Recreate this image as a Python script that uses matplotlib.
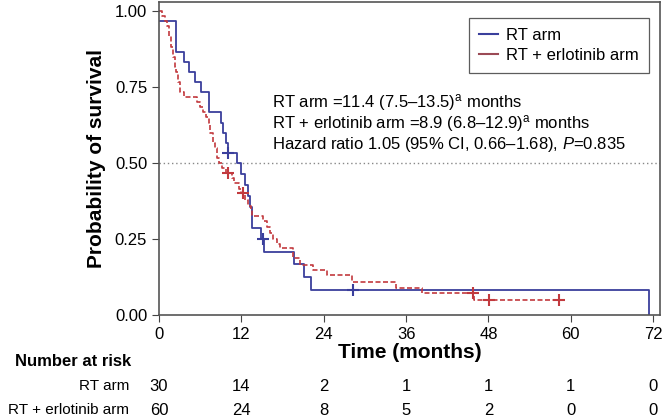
import matplotlib.pyplot as plt
from matplotlib.lines import Line2D
from matplotlib.transforms import blended_transform_factory

plt.rcParams['font.family'] = ['Liberation Sans', 'DejaVu Sans']
plt.rcParams['mathtext.fontset'] = 'custom'
plt.rcParams['mathtext.rm'] = 'Liberation Sans'
plt.rcParams['mathtext.it'] = 'Liberation Sans:italic'

# RT arm (n=30): event times and survival after each step
rt_times = [0, 2.5, 3.7, 4.3, 5.2, 6.1, 7.3, 9.0, 9.3, 9.8, 10.0, 11.4, 11.9, 12.5,
            12.9, 13.3, 13.5, 14.8, 15.3, 19.6, 21.1, 22.2, 71.4]
rt_surv = [0.967, 0.867, 0.833, 0.80, 0.767, 0.733, 0.667, 0.633, 0.60, 0.567, 0.533,
           0.50, 0.464, 0.428, 0.39, 0.357, 0.286, 0.25, 0.208, 0.167, 0.125, 0.083, 0.0]
rt_cens_t = [10.1, 15.2, 28.3]
rt_cens_s = [0.533, 0.25, 0.083]

# RT + erlotinib arm (n=60)
er_times = [0, 0.5, 0.9, 1.2, 1.5, 1.8, 2.0, 2.3, 2.5, 2.7, 3.0, 3.6, 5.6, 6.0, 6.4,
            6.8, 7.3, 7.5, 7.8, 8.1, 8.4, 8.7, 9.2, 9.7, 10.6, 11.0, 11.6, 12.0, 12.6,
            13.0, 13.4, 13.6, 15.2, 15.7, 16.2, 16.6, 17.2, 17.6, 19.5, 20.6, 22.4,
            24.5, 28.1, 34.5, 38.3, 45.9, 58.3]
er_surv = [1.0, 0.983, 0.967, 0.95, 0.917, 0.883, 0.85, 0.817, 0.80, 0.767, 0.733,
           0.717, 0.70, 0.683, 0.667, 0.65, 0.633, 0.60, 0.567, 0.55, 0.517, 0.50,
           0.483, 0.467, 0.45, 0.433, 0.416, 0.40, 0.38, 0.36, 0.345, 0.327, 0.31,
           0.29, 0.27, 0.25, 0.235, 0.22, 0.186, 0.165, 0.147, 0.13, 0.108, 0.088,
           0.072, 0.049, 0.049]
er_cens_t = [10.1, 12.2, 45.8, 48.1, 58.3]
er_cens_s = [0.467, 0.40, 0.072, 0.049, 0.049]

risk_ticks = [0, 12, 24, 36, 48, 60, 72]
risk_rt = [30, 14, 2, 1, 1, 1, 0]
risk_er = [60, 24, 8, 5, 2, 0, 0]

blue = '#3a3f9c'
red = '#c23a3e'

fig = plt.figure(figsize=(6.65, 4.19), dpi=100)
ax = fig.add_axes([159 / 665, 1 - 315 / 419, 501 / 665, 313 / 419])

ax.axhline(0.5, color='#888888', linestyle=(0, (1, 2)), linewidth=1)
ax.step(rt_times, rt_surv, where='post', color=blue, linewidth=1.3)
ax.step(er_times, er_surv, where='post', color=red, linewidth=1.2,
        linestyle=(0, (3, 1.5)))
ax.plot(rt_cens_t, rt_cens_s, '+', color=blue, ms=8, mew=1.5)
ax.plot(er_cens_t, er_cens_s, '+', color=red, ms=8, mew=1.5)

ax.set_xlim(0, 73)
ax.set_ylim(0, 1.03)
ax.set_xticks(risk_ticks)
ax.set_yticks([0, 0.25, 0.5, 0.75, 1.0])
ax.set_yticklabels(['0.00', '0.25', '0.50', '0.75', '1.00'])
ax.tick_params(direction='out', length=5, labelsize=12, color='#444444')
for s in ax.spines.values():
    s.set_color('#555555')
    s.set_linewidth(1.2)

ax.set_xlabel('Time (months)', fontsize=15, fontweight='bold', labelpad=1)
ax.set_ylabel('Probability of survival', fontsize=15, fontweight='bold', labelpad=6)

handles = [Line2D([], [], color=blue, lw=1.5), Line2D([], [], color='#9b4a55', lw=1.5)]
leg = ax.legend(handles, ['RT arm', 'RT + erlotinib arm'], loc='upper right',
                bbox_to_anchor=(0.978, 0.949), borderaxespad=0, fontsize=12,
                fancybox=False, edgecolor='#333333', handlelength=1.15,
                handletextpad=0.5, borderpad=0.6, labelspacing=0.32)
leg.get_frame().set_linewidth(0.9)

tx = 16.5
ax.text(tx, 0.70, 'RT arm =11.4 (7.5–13.5)$^{\\mathrm{a}}$ months', fontsize=12, va='center')
ax.text(tx, 0.63, 'RT + erlotinib arm =8.9 (6.8–12.9)$^{\\mathrm{a}}$ months', fontsize=12, va='center')
ax.text(tx, 0.56, 'Hazard ratio 1.05 (95% CI, 0.66–1.68), $\\mathit{P}$=0.835', fontsize=12, va='center')

# number at risk table
tr = blended_transform_factory(ax.transData, fig.transFigure)
fig.text(131 / 665, 1 - 361 / 419, 'Number at risk', fontsize=12, fontweight='bold',
         ha='right', va='center')
fig.text(129 / 665, 1 - 386 / 419, 'RT arm', fontsize=11, ha='right', va='center')
fig.text(129 / 665, 1 - 410 / 419, 'RT + erlotinib arm', fontsize=11, ha='right', va='center')
for t, a, b in zip(risk_ticks, risk_rt, risk_er):
    ax.text(t, 1 - 386 / 419, str(a), transform=tr, fontsize=12, ha='center', va='center')
    ax.text(t, 1 - 410 / 419, str(b), transform=tr, fontsize=12, ha='center', va='center')

fig.savefig('out.png', dpi=100)
